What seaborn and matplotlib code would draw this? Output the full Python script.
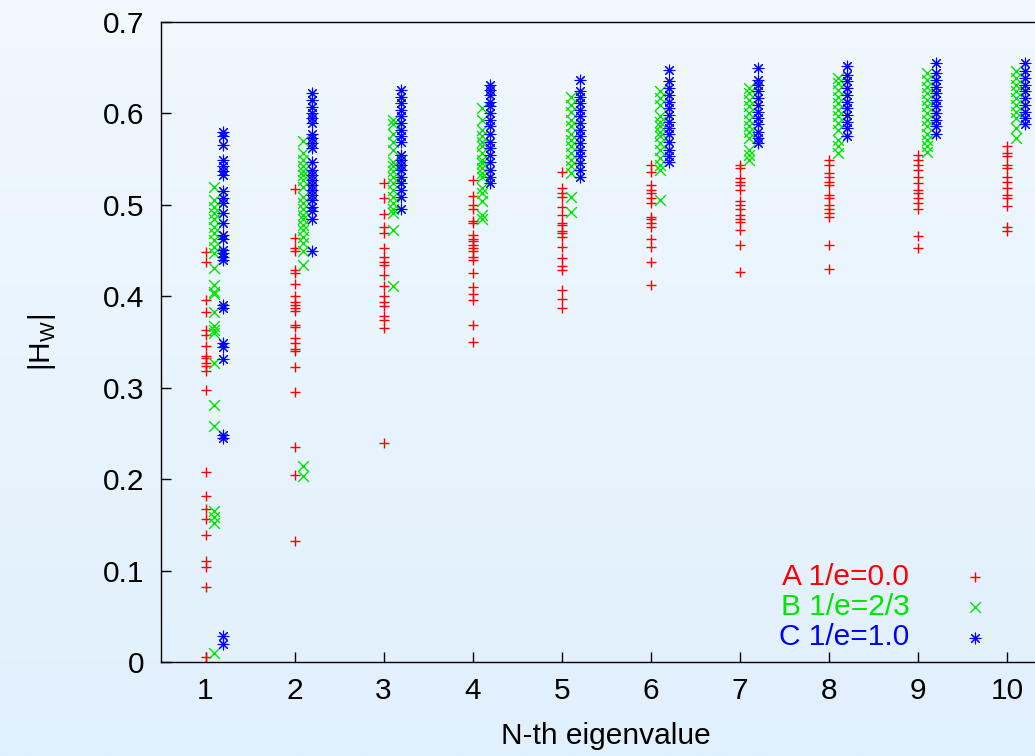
import numpy as np
import pandas as pd
import matplotlib
matplotlib.use("Agg")
import matplotlib.pyplot as plt
import seaborn as sns

eigen_index = [1, 2, 3, 4, 5, 6, 7, 8, 9, 10]
series_labels = ["A 1/e=0.0", "B 1/e=2/3", "C 1/e=1.0"]

values_A = [
    [0.448, 0.437, 0.396, 0.383, 0.363, 0.358, 0.346, 0.335, 0.332, 0.327, 0.324, 0.318, 0.298, 0.208, 0.182, 0.167, 0.156, 0.139, 0.110, 0.104, 0.082, 0.005],
    [0.517, 0.464, 0.453, 0.449, 0.429, 0.425, 0.413, 0.400, 0.394, 0.391, 0.387, 0.384, 0.369, 0.366, 0.354, 0.349, 0.342, 0.340, 0.323, 0.295, 0.235, 0.205, 0.132],
    [0.524, 0.508, 0.490, 0.476, 0.469, 0.453, 0.443, 0.438, 0.434, 0.423, 0.411, 0.400, 0.394, 0.389, 0.378, 0.374, 0.365, 0.240],
    [0.527, 0.510, 0.500, 0.495, 0.482, 0.480, 0.467, 0.463, 0.460, 0.456, 0.453, 0.449, 0.443, 0.440, 0.426, 0.410, 0.403, 0.396, 0.369, 0.350],
    [0.536, 0.518, 0.513, 0.509, 0.498, 0.489, 0.480, 0.478, 0.471, 0.469, 0.465, 0.454, 0.442, 0.433, 0.429, 0.407, 0.397, 0.387],
    [0.544, 0.536, 0.522, 0.516, 0.513, 0.507, 0.502, 0.487, 0.484, 0.480, 0.476, 0.463, 0.454, 0.437, 0.412],
    [0.544, 0.540, 0.529, 0.525, 0.522, 0.516, 0.504, 0.500, 0.495, 0.489, 0.484, 0.481, 0.473, 0.456, 0.427],
    [0.549, 0.544, 0.535, 0.531, 0.525, 0.522, 0.511, 0.507, 0.500, 0.495, 0.491, 0.487, 0.456, 0.430],
    [0.555, 0.549, 0.544, 0.538, 0.531, 0.524, 0.516, 0.513, 0.507, 0.502, 0.496, 0.466, 0.453],
    [0.564, 0.557, 0.553, 0.544, 0.540, 0.531, 0.525, 0.518, 0.511, 0.507, 0.499, 0.476, 0.471],
]

values_B = [
    [0.519, 0.505, 0.498, 0.491, 0.484, 0.476, 0.469, 0.462, 0.454, 0.447, 0.431, 0.412, 0.405, 0.402, 0.383, 0.367, 0.363, 0.360, 0.327, 0.281, 0.258, 0.165, 0.159, 0.152, 0.010],
    [0.570, 0.557, 0.549, 0.542, 0.537, 0.533, 0.527, 0.520, 0.509, 0.502, 0.495, 0.489, 0.484, 0.478, 0.473, 0.465, 0.458, 0.449, 0.434, 0.214, 0.203],
    [0.593, 0.588, 0.578, 0.569, 0.560, 0.547, 0.542, 0.537, 0.531, 0.524, 0.516, 0.509, 0.502, 0.496, 0.491, 0.473, 0.411],
    [0.606, 0.593, 0.582, 0.575, 0.569, 0.564, 0.557, 0.549, 0.546, 0.540, 0.535, 0.531, 0.518, 0.513, 0.504, 0.489, 0.485],
    [0.618, 0.609, 0.602, 0.593, 0.586, 0.578, 0.571, 0.564, 0.557, 0.549, 0.542, 0.535, 0.509, 0.492],
    [0.624, 0.617, 0.609, 0.597, 0.591, 0.586, 0.580, 0.575, 0.568, 0.560, 0.551, 0.544, 0.538, 0.505],
    [0.628, 0.622, 0.615, 0.608, 0.600, 0.593, 0.586, 0.580, 0.573, 0.560, 0.555, 0.549],
    [0.639, 0.633, 0.626, 0.618, 0.611, 0.604, 0.597, 0.589, 0.582, 0.571, 0.564, 0.557],
    [0.644, 0.637, 0.629, 0.622, 0.615, 0.608, 0.600, 0.593, 0.586, 0.578, 0.571, 0.564, 0.558],
    [0.646, 0.639, 0.631, 0.624, 0.617, 0.609, 0.602, 0.595, 0.584, 0.573],
]

values_C = [
    [0.580, 0.575, 0.565, 0.549, 0.542, 0.537, 0.533, 0.515, 0.507, 0.502, 0.491, 0.480, 0.467, 0.463, 0.451, 0.447, 0.443, 0.440, 0.391, 0.387, 0.349, 0.345, 0.331, 0.248, 0.245, 0.028, 0.020],
    [0.622, 0.615, 0.607, 0.600, 0.595, 0.589, 0.578, 0.573, 0.568, 0.562, 0.547, 0.538, 0.533, 0.527, 0.522, 0.516, 0.511, 0.505, 0.498, 0.493, 0.484, 0.450],
    [0.626, 0.618, 0.611, 0.604, 0.597, 0.589, 0.582, 0.575, 0.569, 0.555, 0.549, 0.544, 0.538, 0.531, 0.524, 0.516, 0.509, 0.495],
    [0.631, 0.626, 0.620, 0.613, 0.608, 0.600, 0.593, 0.586, 0.577, 0.569, 0.562, 0.555, 0.547, 0.538, 0.531, 0.524],
    [0.637, 0.624, 0.618, 0.611, 0.604, 0.597, 0.589, 0.582, 0.575, 0.568, 0.560, 0.553, 0.546, 0.538, 0.531],
    [0.648, 0.635, 0.628, 0.620, 0.613, 0.606, 0.598, 0.591, 0.584, 0.577, 0.569, 0.560, 0.553, 0.547],
    [0.650, 0.637, 0.631, 0.624, 0.617, 0.609, 0.602, 0.595, 0.588, 0.580, 0.573, 0.568],
    [0.652, 0.642, 0.635, 0.628, 0.620, 0.613, 0.606, 0.598, 0.591, 0.584, 0.575],
    [0.655, 0.644, 0.637, 0.629, 0.622, 0.615, 0.608, 0.600, 0.593, 0.586, 0.578],
    [0.655, 0.646, 0.639, 0.631, 0.624, 0.617, 0.609, 0.602, 0.595, 0.588],
]

x_ticks = [1, 2, 3, 4, 5, 6, 7, 8, 9, 10]
y_ticks = [0, 0.1, 0.2, 0.3, 0.4, 0.5, 0.6, 0.7]
y_tick_labels = ["0", "0.1", "0.2", "0.3", "0.4", "0.5", "0.6", "0.7"]

# ---- styling ----
sns.set_style("ticks")
plt.rcParams["font.family"] = ["Liberation Sans", "DejaVu Sans"]
plt.rcParams["mathtext.fontset"] = "custom"
plt.rcParams["mathtext.rm"] = "Liberation Sans"
for key in ["text.color", "axes.labelcolor", "xtick.color", "ytick.color", "xtick.labelcolor", "ytick.labelcolor"]:
    plt.rcParams[key] = "black"

colors = ["#ff0000", "#00e600", "#0000ff"]
markers = ["+", "x", (8, 2, 0)]
offsets = [0.0, 0.1, 0.2]
line_widths = [1.0, 1.0, 0.8]

rows = []
for s_idx, (label, vals) in enumerate(zip(series_labels, [values_A, values_B, values_C])):
    for k, col in zip(eigen_index, vals):
        for v in col:
            rows.append({"series": label, "eig": k, "pos": k + offsets[s_idx], "value": v})
df = pd.DataFrame(rows)

W, H = 1035, 756
fig = plt.figure(figsize=(W / 100, H / 100), dpi=100)

# gradient background
bg = fig.add_axes([0, 0, 1, 1], zorder=0)
top = np.array([241, 248, 254]) / 255.0
bot = np.array([224, 240, 252]) / 255.0
t = np.linspace(0, 1, 256)[:, None]
grad = (top[None, :] * (1 - t) + bot[None, :] * t)[:, None, :]
bg.imshow(grad, aspect="auto", extent=[0, 1, 0, 1])
bg.axis("off")

ax_left, ax_right = 161, 1051.5
ax_top, ax_bottom = 22, 662
ax = fig.add_axes([ax_left / W, (H - ax_bottom) / H, (ax_right - ax_left) / W, (ax_bottom - ax_top) / H], zorder=1)
ax.set_facecolor("none")

for s_idx, label in enumerate(series_labels):
    sub = df[df["series"] == label]
    sns.scatterplot(data=sub, x="pos", y="value", marker=markers[s_idx], color=colors[s_idx],
                    s=60, linewidth=line_widths[s_idx], ax=ax, label=label, legend=False)

ax.set_xlim(0.5, 10.5)
ax.set_ylim(0, 0.7)
ax.set_xticks(x_ticks)
ax.set_xticklabels([str(v) for v in x_ticks])
ax.set_yticks(y_ticks)
ax.set_yticklabels(y_tick_labels)

fs = 21.5
ax.tick_params(axis="both", direction="in", length=7, width=1, labelsize=fs, color="black", labelcolor="black")
ax.tick_params(axis="y", pad=12)
ax.tick_params(axis="x", pad=11)
ax.set_xlabel("N-th eigenvalue", fontsize=fs, labelpad=12, color="black")
ax.set_ylabel(r"|H$_\mathregular{W}$|", fontsize=fs, labelpad=32, color="black")
for sp in ax.spines.values():
    sp.set_color("black")
    sp.set_linewidth(1.0)

leg = ax.legend(loc="center", bbox_to_anchor=((892 - ax_left) / (ax_right - ax_left), (ax_bottom - 607) / (ax_bottom - ax_top)),
                frameon=False, markerfirst=False, fontsize=fs, handletextpad=1.2, labelspacing=0.08,
                scatterpoints=1, borderpad=0, handlelength=2.0)
for txt, c in zip(leg.get_texts(), colors):
    txt.set_color(c)

fig.savefig("out.png", dpi=100)
